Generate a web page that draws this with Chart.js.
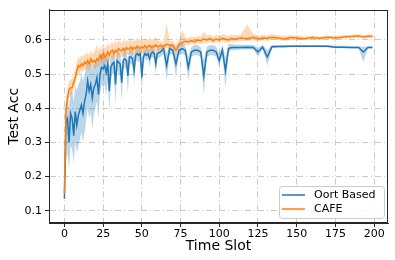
<!DOCTYPE html>
<html>
<head>
<meta charset="utf-8">
<script src="https://cdn.jsdelivr.net/npm/chart.js@4.4.1/dist/chart.umd.min.js"></script>
<style>
  html, body { margin: 0; padding: 0; background: #fff; }
</style>
</head>
<body>
<canvas id="myChart" width="395" height="260"></canvas>
<script>
const slots = [
  0,1,2,3,4,5,6,7,8,9, 10,11,12,13,14,15,16,17,18,19,
  20,21,22,23,24,25,26,27,28,29, 30,31,32,33,34,35,36,37,38,39,
  40,41,42,43,44,45,46,47,48,49, 50,51,52,53,54,55,56,57,58,59, 60,
  62,64,66,68,70,72,74,76,78,80, 82,84,86,88,90,92,94,96,98,100,
  102,104,106,108,110,
  114,118,122,125,128,131,134,138,142,146,150,
  155,160,165,170,175,180,185,190,193,196,199
];

// Oort Based (blue)
const oortMean = [
  0.135,0.36,0.37,0.30,0.385,0.37,0.32,0.39,0.35,0.38,
  0.395,0.41,0.385,0.42,0.44,0.48,0.45,0.47,0.43,0.46,
  0.47,0.49,0.44,0.50,0.52,0.515,0.525,0.505,0.53,0.45,
  0.52,0.53,0.535,0.47,0.54,0.535,0.53,0.475,0.54,0.545,
  0.54,0.495,0.55,0.55,0.545,0.51,0.555,0.56,0.555,0.56,
  0.49,0.55,0.56,0.555,0.56,0.545,0.56,0.565,0.56,0.53, 0.56,
  0.565,0.575,0.525,0.575,0.57,0.53,0.57,0.575,0.57,0.52,
  0.565,0.57,0.57,0.565,0.495,0.565,0.57,0.57,0.565,0.54,
  0.57,0.51,0.575,0.578,0.578,
  0.578,0.579,0.578,0.565,0.579,0.55,0.58,0.581,0.581,0.582,0.582,
  0.582,0.582,0.582,0.582,0.579,0.579,0.578,0.578,0.565,0.578,0.578
];
const oortLow = [
  0.128,0.24,0.27,0.22,0.29,0.28,0.24,0.30,0.27,0.29,
  0.31,0.33,0.30,0.33,0.36,0.40,0.37,0.39,0.34,0.38,
  0.40,0.42,0.37,0.44,0.47,0.46,0.47,0.44,0.48,0.39,
  0.48,0.50,0.50,0.41,0.51,0.50,0.50,0.42,0.51,0.52,
  0.515,0.44,0.53,0.53,0.525,0.47,0.535,0.54,0.535,0.54,
  0.45,0.53,0.545,0.54,0.545,0.52,0.545,0.55,0.545,0.50, 0.545,
  0.55,0.56,0.48,0.56,0.555,0.49,0.555,0.56,0.555,0.48,
  0.55,0.555,0.555,0.55,0.44,0.55,0.555,0.555,0.55,0.52,
  0.555,0.46,0.565,0.57,0.57,
  0.572,0.573,0.572,0.55,0.574,0.525,0.576,0.577,0.578,0.579,0.579,
  0.579,0.579,0.579,0.579,0.576,0.576,0.575,0.575,0.535,0.575,0.575
];
const oortHigh = [
  0.142,0.41,0.43,0.40,0.46,0.45,0.42,0.47,0.45,0.47,
  0.48,0.50,0.48,0.50,0.52,0.54,0.52,0.54,0.51,0.53,
  0.54,0.55,0.53,0.555,0.56,0.56,0.565,0.55,0.565,0.52,
  0.55,0.56,0.565,0.52,0.57,0.565,0.56,0.52,0.57,0.57,
  0.565,0.54,0.575,0.575,0.57,0.55,0.575,0.58,0.575,0.58,
  0.53,0.57,0.578,0.575,0.58,0.57,0.578,0.582,0.578,0.56, 0.578,
  0.58,0.59,0.56,0.59,0.585,0.56,0.585,0.59,0.585,0.55,
  0.58,0.585,0.585,0.58,0.54,0.58,0.585,0.585,0.58,0.56,
  0.585,0.55,0.588,0.588,0.587,
  0.586,0.586,0.585,0.578,0.585,0.57,0.585,0.585,0.585,0.585,0.585,
  0.585,0.585,0.585,0.585,0.583,0.583,0.582,0.582,0.58,0.582,0.582
];

// CAFE (orange)
const cafeMean = [
  0.15,0.40,0.43,0.455,0.46,0.46,0.475,0.49,0.51,0.525,
  0.52,0.53,0.525,0.535,0.53,0.54,0.53,0.545,0.535,0.54,
  0.535,0.545,0.54,0.555,0.545,0.56,0.55,0.555,0.565,0.555,
  0.565,0.57,0.56,0.57,0.565,0.575,0.57,0.568,0.575,0.57,
  0.578,0.572,0.575,0.58,0.572,0.578,0.575,0.582,0.578,0.575,
  0.58,0.577,0.584,0.578,0.58,0.585,0.578,0.582,0.58,0.586, 0.58,
  0.585,0.58,0.588,0.584,0.586,0.57,0.588,0.592,0.596,0.594,
  0.598,0.595,0.60,0.598,0.603,0.60,0.604,0.598,0.603,0.60,
  0.605,0.602,0.60,0.604,0.602,
  0.606,0.604,0.608,0.603,0.606,0.605,0.608,0.606,0.603,0.607,0.606,
  0.604,0.607,0.605,0.608,0.606,0.609,0.61,0.612,0.609,0.611,0.611
];
const cafeLow = [
  0.14,0.37,0.40,0.43,0.44,0.44,0.455,0.47,0.49,0.505,
  0.50,0.51,0.505,0.515,0.51,0.52,0.51,0.525,0.515,0.52,
  0.515,0.525,0.52,0.535,0.525,0.54,0.53,0.535,0.545,0.535,
  0.545,0.55,0.54,0.55,0.545,0.555,0.55,0.55,0.555,0.55,
  0.56,0.555,0.558,0.562,0.555,0.56,0.558,0.565,0.56,0.558,
  0.563,0.56,0.567,0.56,0.563,0.568,0.56,0.565,0.563,0.57, 0.563,
  0.575,0.57,0.576,0.574,0.576,0.56,0.578,0.582,0.586,0.584,
  0.588,0.585,0.59,0.588,0.593,0.591,0.595,0.589,0.594,0.591,
  0.596,0.593,0.592,0.596,0.594,
  0.598,0.597,0.60,0.596,0.599,0.598,0.601,0.60,0.597,0.601,0.60,
  0.599,0.602,0.60,0.603,0.601,0.604,0.605,0.607,0.604,0.606,0.606
];
const cafeHigh = [
  0.16,0.43,0.46,0.48,0.485,0.485,0.50,0.515,0.535,0.55,
  0.545,0.555,0.55,0.56,0.555,0.565,0.555,0.57,0.56,0.565,
  0.575,0.585,0.565,0.585,0.57,0.59,0.575,0.58,0.59,0.58,
  0.59,0.595,0.585,0.60,0.59,0.60,0.595,0.59,0.60,0.595,
  0.60,0.595,0.598,0.605,0.595,0.60,0.598,0.605,0.60,0.598,
  0.60,0.598,0.605,0.598,0.60,0.608,0.598,0.603,0.60,0.61, 0.60,
  0.597,0.592,0.65,0.596,0.598,0.585,0.60,0.63,0.608,0.606,
  0.61,0.607,0.612,0.61,0.625,0.612,0.616,0.61,0.615,0.612,
  0.617,0.614,0.612,0.616,0.613,
  0.617,0.645,0.618,0.612,0.615,0.613,0.616,0.614,0.611,0.614,0.612,
  0.61,0.613,0.61,0.613,0.611,0.614,0.615,0.617,0.613,0.616,0.616
];

const xTicks = [0, 25, 50, 75, 100, 125, 150, 175, 200];
const yTicks = [0.1, 0.2, 0.3, 0.4, 0.5, 0.6];

const blue = '#1f77b4';
const orange = '#ff7f0e';
const font = "'DejaVu Sans', sans-serif";

function pts(vals) {
  return slots.map((s, i) => ({ x: s, y: vals[i] }));
}

// matplotlib style frame + legend box in the lower right
const frameAndLegend = {
  id: 'frameAndLegend',
  afterDraw(chart) {
    const c = chart.ctx, a = chart.chartArea;
    c.save();
    c.strokeStyle = '#262626';
    c.lineWidth = 1;
    c.strokeRect(Math.round(a.left) + 0.5, Math.round(a.top) + 0.5,
      Math.round(a.right - a.left) - 1, Math.round(a.bottom - a.top) - 1);

    const bx = a.right - 109, by = a.bottom - 37, bw = 105, bh = 32;
    c.fillStyle = 'rgba(255,255,255,0.85)';
    c.strokeStyle = '#cccccc';
    c.beginPath();
    c.roundRect(bx + 0.5, by + 0.5, bw, bh, 3);
    c.fill();
    c.stroke();

    const items = [['Oort Based', blue], ['CAFE', orange]];
    c.font = "11px " + font;
    c.textBaseline = 'middle';
    items.forEach((it, i) => {
      const y = by + 9 + i * 14;
      c.strokeStyle = it[1];
      c.lineWidth = 1.5;
      c.beginPath();
      c.moveTo(bx + 3, y);
      c.lineTo(bx + 26, y);
      c.stroke();
      c.fillStyle = '#000';
      c.fillText(it[0], bx + 35, y);
    });
    c.restore();
  }
};

const ctx = document.getElementById('myChart');
const cht = new Chart(ctx, {
  type: 'line',
  data: {
    datasets: [
      { data: pts(oortLow), borderWidth: 0, pointRadius: 0, fill: false, order: 5 },
      { data: pts(oortHigh), borderWidth: 0, pointRadius: 0, fill: '-1',
        backgroundColor: 'rgba(31,119,180,0.3)', order: 5 },
      { data: pts(cafeLow), borderWidth: 0, pointRadius: 0, fill: false, order: 3 },
      { data: pts(cafeHigh), borderWidth: 0, pointRadius: 0, fill: '-1',
        backgroundColor: 'rgba(255,127,14,0.3)', order: 3 },
      { label: 'Oort Based', data: pts(oortMean), borderColor: blue, borderWidth: 1.5,
        pointRadius: 0, fill: false, order: 4 },
      { label: 'CAFE', data: pts(cafeMean), borderColor: orange, borderWidth: 1.5,
        pointRadius: 0, fill: false, order: 2 }
    ]
  },
  options: {
    responsive: false,
    animation: false,
    layout: { padding: { top: 5, right: 7, left: 0, bottom: 0 } },
    plugins: { legend: { display: false }, tooltip: { enabled: false } },
    elements: { line: { tension: 0 } },
    scales: {
      x: {
        type: 'linear',
        min: -9.95,
        max: 208.95,
        afterFit: (s) => { s.height = 37; },
        afterBuildTicks: (s) => { s.ticks = xTicks.map(v => ({ value: v })); },
        ticks: { color: '#000', padding: 1, maxRotation: 0, font: { family: font, size: 11 } },
        grid: { color: '#bdbdbd', lineWidth: 0.8, tickColor: '#262626', tickLength: 4,
                tickWidth: 1, tickBorderDash: [] },
        border: { display: true, color: '#262626', dash: [6, 3, 1, 3] },
        title: { display: true, text: 'Time Slot', color: '#000',
                 font: { family: font, size: 14 }, padding: { top: 0, bottom: 5 } }
      },
      y: {
        min: 0.064,
        max: 0.689,
        afterFit: (s) => { s.width = 49; },
        afterBuildTicks: (s) => { s.ticks = yTicks.map(v => ({ value: v })); },
        ticks: { color: '#000', padding: 3, font: { family: font, size: 11 },
                 callback: (v) => v.toFixed(1) },
        grid: { color: '#bdbdbd', lineWidth: 0.8, tickColor: '#262626', tickLength: 4,
                tickWidth: 1, tickBorderDash: [] },
        border: { display: true, color: '#262626', dash: [6, 3, 1, 3] },
        title: { display: true, text: 'Test Acc', color: '#000',
                 font: { family: font, size: 14 }, padding: { top: 6, bottom: 0 } }
      }
    }
  },
  plugins: [frameAndLegend]
});
</script>
</body>
</html>
